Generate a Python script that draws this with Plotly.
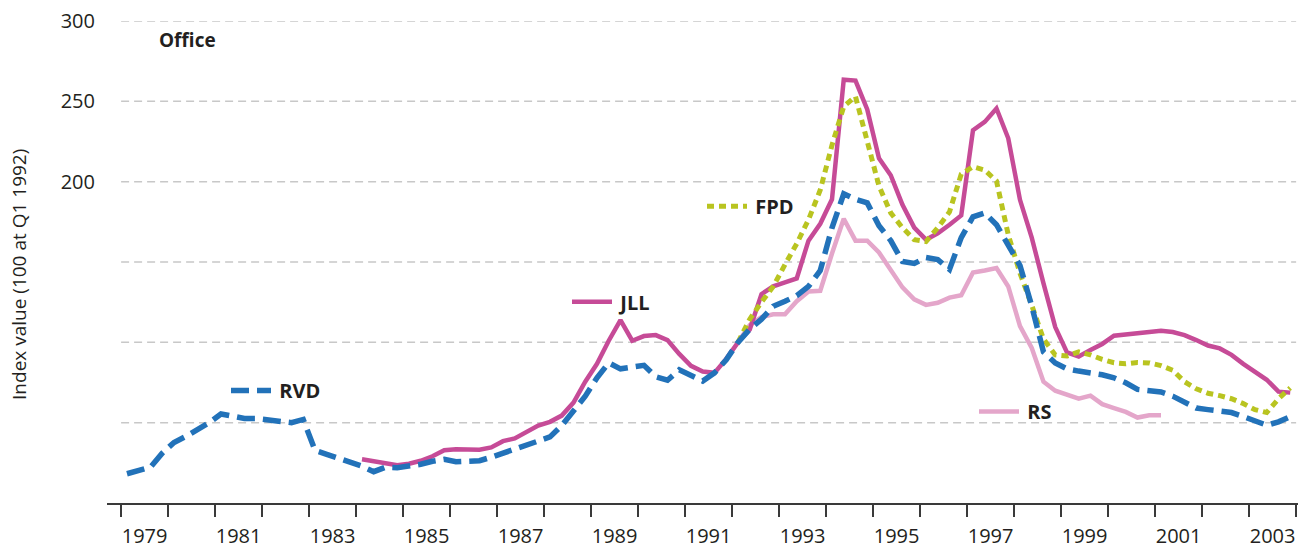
import plotly.graph_objects as go

# ---------------- data (quarterly index, 100 at Q1 1992) ----------------
rvd_start = (1979, 1)
rvd = [18.2, 20.4, 22.3, 31.0, 37.7, 41.4, 45.8, 50.0, 55.4, 54.4,
       52.6, 52.6, 52.0, 51.3, 50.0, 52.0, 32.8, 30.3, 27.8, 25.4,
       22.9, 19.5, 22.3, 22.0, 22.9, 24.1, 26.0, 27.2, 25.7, 25.7,
       26.3, 28.5, 31.0, 33.4, 35.3, 38.3, 41.1, 48.2, 56.9, 66.5,
       77.9, 87.2, 83.5, 85.0, 85.7, 78.6, 76.4, 82.9, 79.8, 75.9,
       81.0, 89.1, 100.0, 108.2, 114.4, 122.5, 125.6, 129.0, 134.8, 144.7,
       171.3, 192.4, 189.0, 186.8, 172.6, 163.3, 150.3, 149.1, 152.8, 151.5,
       145.4, 165.2, 178.1, 180.6, 173.2, 160.2, 147.8, 122.5, 94.0, 87.2,
       83.5, 82.1, 81.0, 79.8, 77.9, 74.8, 70.7, 70.1, 69.1, 66.5,
       63.1, 59.1, 58.1, 57.2, 56.3, 53.8, 51.0, 48.4, 50.5, 53.8]

jll_start = (1984, 1)
jll = [27.2, 26.0, 24.4, 23.5, 24.4, 26.3, 29.1, 32.8, 33.4, 33.6,
       33.1, 34.6, 38.5, 40.2, 44.5, 48.2, 50.5, 54.4, 62.5, 75.5,
       86.6, 101.0, 113.8, 101.0, 103.9, 104.5, 101.4, 92.8, 85.4, 81.8,
       81.0, 89.7, 100.0, 108.0, 130.0, 134.9, 137.3, 139.8, 163.3, 173.8,
       189.0, 263.5, 262.9, 245.0, 214.6, 204.0, 185.6, 171.4, 163.9, 167.9,
       173.2, 179.0, 232.0, 237.2, 245.6, 227.0, 188.7, 165.2, 136.7, 109.5,
       93.7, 91.2, 95.3, 99.0, 104.1, 104.8, 105.5, 106.7, 107.2, 106.4,
       104.5, 101.4, 98.0, 96.2, 92.2, 86.6, 81.3, 76.7, 69.3, 68.7]

fpd_start = (1992, 1)
fpd = [100.0, 114.4, 125.0, 134.8, 148.4, 161.4, 176.3, 194.8, 222.7, 246.8,
       253.0, 225.8, 197.3, 180.6, 171.3, 163.9, 162.7, 171.3, 181.2, 204.7,
       209.3, 207.2, 200.4, 167.0, 143.0, 123.1, 102.0, 92.2, 91.5, 94.0,
       92.2, 89.4, 87.3, 86.6, 87.5, 87.2, 85.5, 82.6, 75.5, 71.1,
       68.3, 66.8, 64.9, 61.9, 58.1, 56.3, 64.9, 71.6]

rs_start = (1992, 1)
rs = [100.0, 110.7, 115.7, 117.5, 117.5, 125.6, 131.7, 132.1, 155.3, 176.9,
      163.3, 163.3, 155.9, 144.7, 134.2, 126.8, 123.3, 124.6, 127.8, 129.3,
      143.5, 144.7, 146.3, 134.8, 110.1, 96.5, 75.5, 69.9, 67.7, 64.9,
      66.8, 61.5, 59.1, 56.7, 53.2, 54.6, 54.6]

tick_years = list(range(1979, 2005))
label_years = list(range(1979, 2004, 2))
grid_values = [50, 100, 150, 200, 250, 300]
labeled_values = [200, 250, 300]

# ---------------- styling ----------------
FONT = "Open Sans"
TXT = "#231f20"
C_JLL = "#c64b97"
C_RVD = "#2272b9"
C_FPD = "#b9c420"
C_RS = "#e4a6ca"


def quarter_positions(start, n):
    y0, q0 = start
    out = []
    for k in range(n):
        idx = (q0 - 1) + k
        y = y0 + idx // 4
        q = idx % 4 + 1
        out.append(y + (q - 0.5) / 4.0)
    return out


fig = go.Figure()

fig.add_trace(go.Scatter(
    x=quarter_positions(rs_start, len(rs)), y=rs, mode="lines", name="\u2009RS",
    line=dict(color=C_RS, width=4.5), legend="legend4"))
fig.add_trace(go.Scatter(
    x=quarter_positions(jll_start, len(jll)), y=jll, mode="lines", name="\u2009JLL",
    line=dict(color=C_JLL, width=4.5), legend="legend2"))
fig.add_trace(go.Scatter(
    x=quarter_positions(fpd_start, len(fpd)), y=fpd, mode="lines", name="\u2009FPD",
    line=dict(color=C_FPD, width=5, dash="7px,5px"), legend="legend3"))
fig.add_trace(go.Scatter(
    x=quarter_positions(rvd_start, len(rvd)), y=rvd, mode="lines", name="\u2009RVD",
    line=dict(color=C_RVD, width=5.5, dash="18px,8px"), legend="legend"))

# dashed horizontal gridlines
for v in grid_values:
    fig.add_shape(type="line", xref="x", yref="y",
                  x0=tick_years[0], x1=tick_years[-1], y0=v, y1=v,
                  line=dict(color="#c8c8c8", width=1.5, dash="8px,5px"),
                  layer="below")

W, H = 1298, 549
L, R, T, B = 107, 0, 21, 44
pw = W - L - R
ph = H - T - B


def px_x(p):
    return (p - L) / pw


def px_y(p):
    return (H - B - p) / ph


leg_common = dict(bgcolor="rgba(0,0,0,0)", borderwidth=0,
                  font=dict(family=FONT, size=20, color=TXT, weight="bold"),
                  xanchor="left", yanchor="middle", itemwidth=40)

fig.update_layout(
    width=W, height=H,
    margin=dict(l=L, r=R, t=T, b=B),
    paper_bgcolor="white", plot_bgcolor="white",
    showlegend=True,
    legend=dict(x=px_x(226), y=px_y(392), **leg_common),
    legend2=dict(x=px_x(567), y=px_y(303), **leg_common),
    legend3=dict(x=px_x(702), y=px_y(207), **leg_common),
    legend4=dict(x=px_x(974), y=px_y(413), **leg_common),
    xaxis=dict(
        range=[1978.70, 2004.04],
        tickmode="array",
        tickvals=[y + 0.5 for y in label_years],
        ticktext=[str(y) for y in label_years],
        ticks="outside", ticklen=14, tickcolor="rgba(0,0,0,0)",
        tickfont=dict(family=FONT, size=20, color=TXT),
        showgrid=False, zeroline=False,
        showline=True, linecolor="#3a3a3a", linewidth=2,
        minor=dict(tickmode="array", tickvals=tick_years, ticks="outside",
                   ticklen=12, tickwidth=2, tickcolor="#3a3a3a", showgrid=False),
    ),
    yaxis=dict(
        range=[0, 300],
        tickmode="array",
        tickvals=labeled_values,
        ticktext=[str(v) for v in labeled_values],
        ticks="", showgrid=False, zeroline=False, showline=False,
        tickfont=dict(family=FONT, size=20, color=TXT),
        ticklabelstandoff=11,
    ),
    annotations=[
        dict(text="Index value (100 at Q1 1992)", xref="paper", yref="paper",
             x=px_x(19), y=px_y(276), xanchor="center", yanchor="middle",
             textangle=-90, showarrow=False,
             font=dict(family=FONT, size=19, color=TXT)),
        dict(text="<b>Office</b>", xref="paper", yref="paper",
             x=px_x(157), y=px_y(40), xanchor="left", yanchor="middle",
             showarrow=False, font=dict(family=FONT, size=19, color=TXT)),
    ],
)

fig.write_html("out.html",
               config={"displayModeBar": False, "staticPlot": True},
               post_script="document.body.style.margin='0';document.body.style.overflow='hidden';")
